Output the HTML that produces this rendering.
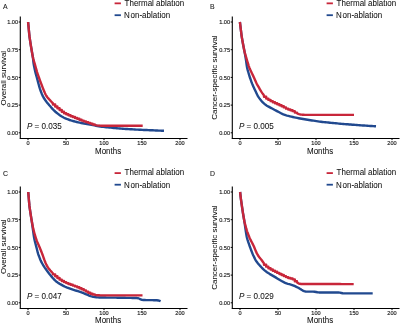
<!DOCTYPE html>
<html><head><meta charset="utf-8"><style>
html,body{margin:0;padding:0;background:#fff;}
svg{display:block;will-change:transform;filter:blur(0.35px);}
text{font-family:"Liberation Sans",sans-serif;}
.tk{font-size:5.6px;fill:#222;stroke:#222;stroke-width:0.15px;}
.lab{font-size:8px;fill:#111;stroke:#111;stroke-width:0.05px;}
.pv{font-size:8.1px;}
.yl{font-size:8px;}
.let{font-size:6.9px;fill:#222;stroke:#222;stroke-width:0.1px;}
</style></head><body>
<svg width="400" height="323" viewBox="0 0 400 323">
<line x1="20.30" y1="16.5" x2="20.30" y2="138.8" stroke="#000" stroke-width="1.1"/>
<line x1="19.80" y1="138.5" x2="187.5" y2="138.5" stroke="#000" stroke-width="1.1"/>
<line x1="18.70" y1="22.00" x2="20.30" y2="22.00" stroke="#000" stroke-width="1"/>
<text x="18.10" y="24.30" text-anchor="end" class="tk">1.00</text>
<line x1="18.70" y1="49.70" x2="20.30" y2="49.70" stroke="#000" stroke-width="1"/>
<text x="18.10" y="52.00" text-anchor="end" class="tk">0.75</text>
<line x1="18.70" y1="77.40" x2="20.30" y2="77.40" stroke="#000" stroke-width="1"/>
<text x="18.10" y="79.70" text-anchor="end" class="tk">0.50</text>
<line x1="18.70" y1="105.10" x2="20.30" y2="105.10" stroke="#000" stroke-width="1"/>
<text x="18.10" y="107.40" text-anchor="end" class="tk">0.25</text>
<line x1="18.70" y1="132.80" x2="20.30" y2="132.80" stroke="#000" stroke-width="1"/>
<text x="18.10" y="135.10" text-anchor="end" class="tk">0.00</text>
<line x1="28.00" y1="138.5" x2="28.00" y2="140.1" stroke="#000" stroke-width="1"/>
<text x="28.00" y="145.20" text-anchor="middle" class="tk">0</text>
<line x1="66.00" y1="138.5" x2="66.00" y2="140.1" stroke="#000" stroke-width="1"/>
<text x="66.00" y="145.20" text-anchor="middle" class="tk">50</text>
<line x1="104.00" y1="138.5" x2="104.00" y2="140.1" stroke="#000" stroke-width="1"/>
<text x="104.00" y="145.20" text-anchor="middle" class="tk">100</text>
<line x1="142.00" y1="138.5" x2="142.00" y2="140.1" stroke="#000" stroke-width="1"/>
<text x="142.00" y="145.20" text-anchor="middle" class="tk">150</text>
<line x1="180.00" y1="138.5" x2="180.00" y2="140.1" stroke="#000" stroke-width="1"/>
<text x="180.00" y="145.20" text-anchor="middle" class="tk">200</text>
<text transform="translate(95,153.8) scale(1,1.08)" class="lab">Months</text>
<text transform="translate(5.5,78.2) rotate(-90)" text-anchor="middle" class="lab yl">Overall survival</text>
<text x="2.9" y="9.2" class="let">A</text>
<line x1="114.6" y1="3.35" x2="120.9" y2="3.35" stroke="#c8263a" stroke-width="1.8"/>
<line x1="114.6" y1="15.2" x2="120.9" y2="15.2" stroke="#21498f" stroke-width="1.8"/>
<text transform="translate(124.6,5.9) scale(1,1.08)" class="lab">Thermal ablation</text>
<text transform="translate(124.0,18.0) scale(1,1.08)" class="lab">N<tspan dx="0.8">on-ablation</tspan></text>
<text transform="translate(26.9,128.8) scale(1,1.08)" class="lab pv"><tspan font-style="italic">P</tspan> = 0.035</text>
<line x1="232.30" y1="16.5" x2="232.30" y2="138.8" stroke="#000" stroke-width="1.1"/>
<line x1="231.80" y1="138.5" x2="399.5" y2="138.5" stroke="#000" stroke-width="1.1"/>
<line x1="230.70" y1="22.00" x2="232.30" y2="22.00" stroke="#000" stroke-width="1"/>
<text x="230.10" y="24.30" text-anchor="end" class="tk">1.00</text>
<line x1="230.70" y1="49.70" x2="232.30" y2="49.70" stroke="#000" stroke-width="1"/>
<text x="230.10" y="52.00" text-anchor="end" class="tk">0.75</text>
<line x1="230.70" y1="77.40" x2="232.30" y2="77.40" stroke="#000" stroke-width="1"/>
<text x="230.10" y="79.70" text-anchor="end" class="tk">0.50</text>
<line x1="230.70" y1="105.10" x2="232.30" y2="105.10" stroke="#000" stroke-width="1"/>
<text x="230.10" y="107.40" text-anchor="end" class="tk">0.25</text>
<line x1="230.70" y1="132.80" x2="232.30" y2="132.80" stroke="#000" stroke-width="1"/>
<text x="230.10" y="135.10" text-anchor="end" class="tk">0.00</text>
<line x1="240.00" y1="138.5" x2="240.00" y2="140.1" stroke="#000" stroke-width="1"/>
<text x="240.00" y="145.20" text-anchor="middle" class="tk">0</text>
<line x1="278.00" y1="138.5" x2="278.00" y2="140.1" stroke="#000" stroke-width="1"/>
<text x="278.00" y="145.20" text-anchor="middle" class="tk">50</text>
<line x1="316.00" y1="138.5" x2="316.00" y2="140.1" stroke="#000" stroke-width="1"/>
<text x="316.00" y="145.20" text-anchor="middle" class="tk">100</text>
<line x1="354.00" y1="138.5" x2="354.00" y2="140.1" stroke="#000" stroke-width="1"/>
<text x="354.00" y="145.20" text-anchor="middle" class="tk">150</text>
<line x1="392.00" y1="138.5" x2="392.00" y2="140.1" stroke="#000" stroke-width="1"/>
<text x="392.00" y="145.20" text-anchor="middle" class="tk">200</text>
<text transform="translate(307,153.8) scale(1,1.08)" class="lab">Months</text>
<text transform="translate(216.6,77.6) rotate(-90)" text-anchor="middle" class="lab yl">Cancer-specific survival</text>
<text x="209.9" y="8.9" class="let">B</text>
<line x1="326.6" y1="3.35" x2="332.9" y2="3.35" stroke="#c8263a" stroke-width="1.8"/>
<line x1="326.6" y1="15.2" x2="332.9" y2="15.2" stroke="#21498f" stroke-width="1.8"/>
<text transform="translate(336.6,5.9) scale(1,1.08)" class="lab">Thermal ablation</text>
<text transform="translate(336.0,18.0) scale(1,1.08)" class="lab">N<tspan dx="0.8">on-ablation</tspan></text>
<text transform="translate(238.9,128.8) scale(1,1.08)" class="lab pv"><tspan font-style="italic">P</tspan> = 0.005</text>
<line x1="20.30" y1="186.5" x2="20.30" y2="308.8" stroke="#000" stroke-width="1.1"/>
<line x1="19.80" y1="308.5" x2="187.5" y2="308.5" stroke="#000" stroke-width="1.1"/>
<line x1="18.70" y1="192.00" x2="20.30" y2="192.00" stroke="#000" stroke-width="1"/>
<text x="18.10" y="194.30" text-anchor="end" class="tk">1.00</text>
<line x1="18.70" y1="219.70" x2="20.30" y2="219.70" stroke="#000" stroke-width="1"/>
<text x="18.10" y="222.00" text-anchor="end" class="tk">0.75</text>
<line x1="18.70" y1="247.40" x2="20.30" y2="247.40" stroke="#000" stroke-width="1"/>
<text x="18.10" y="249.70" text-anchor="end" class="tk">0.50</text>
<line x1="18.70" y1="275.10" x2="20.30" y2="275.10" stroke="#000" stroke-width="1"/>
<text x="18.10" y="277.40" text-anchor="end" class="tk">0.25</text>
<line x1="18.70" y1="302.80" x2="20.30" y2="302.80" stroke="#000" stroke-width="1"/>
<text x="18.10" y="305.10" text-anchor="end" class="tk">0.00</text>
<line x1="28.00" y1="308.5" x2="28.00" y2="310.1" stroke="#000" stroke-width="1"/>
<text x="28.00" y="315.20" text-anchor="middle" class="tk">0</text>
<line x1="66.00" y1="308.5" x2="66.00" y2="310.1" stroke="#000" stroke-width="1"/>
<text x="66.00" y="315.20" text-anchor="middle" class="tk">50</text>
<line x1="104.00" y1="308.5" x2="104.00" y2="310.1" stroke="#000" stroke-width="1"/>
<text x="104.00" y="315.20" text-anchor="middle" class="tk">100</text>
<line x1="142.00" y1="308.5" x2="142.00" y2="310.1" stroke="#000" stroke-width="1"/>
<text x="142.00" y="315.20" text-anchor="middle" class="tk">150</text>
<line x1="180.00" y1="308.5" x2="180.00" y2="310.1" stroke="#000" stroke-width="1"/>
<text x="180.00" y="315.20" text-anchor="middle" class="tk">200</text>
<text transform="translate(95,322.8) scale(1,1.08)" class="lab">Months</text>
<text transform="translate(5.5,246.7) rotate(-90)" text-anchor="middle" class="lab yl">Overall survival</text>
<text x="2.9" y="175.8" class="let">C</text>
<line x1="114.6" y1="173.1" x2="120.9" y2="173.1" stroke="#c8263a" stroke-width="1.8"/>
<line x1="114.6" y1="184.7" x2="120.9" y2="184.7" stroke="#21498f" stroke-width="1.8"/>
<text transform="translate(124.6,175.4) scale(1,1.08)" class="lab">Thermal ablation</text>
<text transform="translate(124.0,187.5) scale(1,1.08)" class="lab">N<tspan dx="0.8">on-ablation</tspan></text>
<text transform="translate(26.9,298.8) scale(1,1.08)" class="lab pv"><tspan font-style="italic">P</tspan> = 0.047</text>
<line x1="232.30" y1="186.5" x2="232.30" y2="308.8" stroke="#000" stroke-width="1.1"/>
<line x1="231.80" y1="308.5" x2="399.5" y2="308.5" stroke="#000" stroke-width="1.1"/>
<line x1="230.70" y1="192.00" x2="232.30" y2="192.00" stroke="#000" stroke-width="1"/>
<text x="230.10" y="194.30" text-anchor="end" class="tk">1.00</text>
<line x1="230.70" y1="219.70" x2="232.30" y2="219.70" stroke="#000" stroke-width="1"/>
<text x="230.10" y="222.00" text-anchor="end" class="tk">0.75</text>
<line x1="230.70" y1="247.40" x2="232.30" y2="247.40" stroke="#000" stroke-width="1"/>
<text x="230.10" y="249.70" text-anchor="end" class="tk">0.50</text>
<line x1="230.70" y1="275.10" x2="232.30" y2="275.10" stroke="#000" stroke-width="1"/>
<text x="230.10" y="277.40" text-anchor="end" class="tk">0.25</text>
<line x1="230.70" y1="302.80" x2="232.30" y2="302.80" stroke="#000" stroke-width="1"/>
<text x="230.10" y="305.10" text-anchor="end" class="tk">0.00</text>
<line x1="240.00" y1="308.5" x2="240.00" y2="310.1" stroke="#000" stroke-width="1"/>
<text x="240.00" y="315.20" text-anchor="middle" class="tk">0</text>
<line x1="278.00" y1="308.5" x2="278.00" y2="310.1" stroke="#000" stroke-width="1"/>
<text x="278.00" y="315.20" text-anchor="middle" class="tk">50</text>
<line x1="316.00" y1="308.5" x2="316.00" y2="310.1" stroke="#000" stroke-width="1"/>
<text x="316.00" y="315.20" text-anchor="middle" class="tk">100</text>
<line x1="354.00" y1="308.5" x2="354.00" y2="310.1" stroke="#000" stroke-width="1"/>
<text x="354.00" y="315.20" text-anchor="middle" class="tk">150</text>
<line x1="392.00" y1="308.5" x2="392.00" y2="310.1" stroke="#000" stroke-width="1"/>
<text x="392.00" y="315.20" text-anchor="middle" class="tk">200</text>
<text transform="translate(307,322.8) scale(1,1.08)" class="lab">Months</text>
<text transform="translate(216.6,247.6) rotate(-90)" text-anchor="middle" class="lab yl">Cancer-specific survival</text>
<text x="209.9" y="175.8" class="let">D</text>
<line x1="326.6" y1="173.1" x2="332.9" y2="173.1" stroke="#c8263a" stroke-width="1.8"/>
<line x1="326.6" y1="184.7" x2="332.9" y2="184.7" stroke="#21498f" stroke-width="1.8"/>
<text transform="translate(336.6,175.4) scale(1,1.08)" class="lab">Thermal ablation</text>
<text transform="translate(336.0,187.5) scale(1,1.08)" class="lab">N<tspan dx="0.8">on-ablation</tspan></text>
<text transform="translate(238.9,298.8) scale(1,1.08)" class="lab pv"><tspan font-style="italic">P</tspan> = 0.029</text>
<polyline points="28.10,22.00 28.24,23.49 28.38,24.99 28.52,26.48 28.66,27.98 28.79,29.47 28.93,30.97 29.07,32.46 29.21,33.96 29.37,35.45 29.55,36.94 29.77,38.43 29.99,39.91 30.21,41.39 30.44,42.88 30.67,44.36 30.91,45.84 31.15,47.32 31.40,48.81 31.65,50.29 31.91,51.76 32.17,53.24 32.43,54.72 32.68,56.20 32.91,57.68 33.10,59.17 33.27,60.66 33.42,62.16 33.61,63.64 33.86,65.12 34.15,66.59 34.46,68.06 34.78,69.53 35.10,71.00 35.45,72.46 35.83,73.91 36.22,75.36 36.62,76.80 37.02,78.25 37.41,79.70 37.80,81.15 38.18,82.60 38.56,84.05 38.95,85.50 39.35,86.95 39.79,88.38 40.28,89.80 40.80,91.21 41.33,92.61 41.87,94.01 42.45,95.39 43.12,96.73 43.88,98.02 44.69,99.28 45.54,100.51 46.45,101.71 47.38,102.88 48.33,104.04 49.28,105.20 50.26,106.34 51.24,107.48 52.24,108.60 53.25,109.71 54.31,110.76 55.43,111.75 56.59,112.71 57.75,113.66 58.93,114.59 60.14,115.47 61.40,116.27 62.71,117.01 64.03,117.72 65.37,118.37 66.75,118.95 68.16,119.49 69.57,120.00 70.99,120.46 72.44,120.88 73.88,121.28 75.33,121.66 76.79,122.03 78.25,122.37 79.71,122.70 81.18,123.00 82.66,123.28 84.14,123.54 85.61,123.81 87.09,124.08 88.57,124.34 90.05,124.61 91.52,124.87 93.00,125.14 94.48,125.42 95.95,125.72 97.42,126.03 98.88,126.33 100.36,126.59 101.85,126.78 103.34,126.93 104.84,127.08 106.33,127.23 107.82,127.38 109.32,127.53 110.81,127.68 112.30,127.83 113.80,127.98 115.29,128.13 116.79,128.28 118.28,128.42 119.77,128.56 121.27,128.67 122.77,128.77 124.27,128.86 125.77,128.95 127.26,129.04 128.76,129.13 130.26,129.22 131.76,129.31 133.26,129.40 134.76,129.49 136.26,129.58 137.75,129.66 139.25,129.75 140.75,129.82 142.25,129.89 143.75,129.95 145.25,130.01 146.75,130.07 148.25,130.13 149.75,130.19 151.25,130.25 152.75,130.32 154.25,130.38 155.75,130.45 157.25,130.51 158.75,130.58 160.25,130.64 161.75,130.70 163.25,130.77 164.00,130.80" fill="none" stroke="#21498f" stroke-width="2.4" stroke-linejoin="round" stroke-linecap="butt"/>
<polyline points="28.10,22.00 28.24,23.49 28.38,24.99 28.52,26.48 28.65,27.98 28.79,29.47 28.93,30.96 29.07,32.46 29.21,33.95 29.37,35.44 29.55,36.93 29.76,38.41 29.98,39.90 30.21,41.38 30.43,42.87 30.67,44.35 30.91,45.83 31.15,47.31 31.40,48.79 31.65,50.27 31.91,51.74 32.16,53.22 32.42,54.70 32.69,56.18 32.99,57.64 33.35,59.10 33.76,60.54 34.19,61.98 34.62,63.42 35.03,64.86 35.43,66.30 35.83,67.75 36.23,69.19 36.64,70.64 37.07,72.08 37.53,73.50 38.02,74.92 38.52,76.33 39.01,77.75 39.51,79.16 40.02,80.57 40.54,81.98 41.07,83.39 41.60,84.79 42.13,86.20 42.67,87.59 43.23,88.99 43.81,90.37 44.39,91.75 44.98,93.13 45.60,94.49 46.30,95.80 47.16,97.01 48.12,98.15 49.12,99.27 50.13,100.38 51.15,101.47 52.19,102.56 53.00,103.41 53.00,104.51 55.20,104.51 55.20,106.46 57.40,106.46 57.40,108.26 59.60,108.26 59.60,110.03 61.80,110.03 61.80,111.71 64.00,111.71 64.00,113.19 66.20,113.19 66.20,114.30 68.40,114.30 68.40,115.26 70.60,115.26 70.60,116.18 72.80,116.18 72.80,117.06 75.00,117.06 75.00,117.94 77.20,117.94 77.20,118.82 79.40,118.82 79.40,119.70 81.60,119.70 81.60,120.58 83.80,120.58 83.80,121.40 86.00,121.40 86.00,122.13 88.20,122.13 88.20,122.83 90.40,122.83 90.40,123.66 92.60,123.66 92.60,124.52 94.80,124.52 94.80,124.89 95.51,125.11 96.97,125.41 98.45,125.57 99.95,125.66 101.45,125.70 102.95,125.71 104.45,125.72 105.95,125.73 107.45,125.74 108.95,125.74 110.45,125.75 111.95,125.76 113.45,125.77 114.95,125.77 116.45,125.78 117.95,125.79 119.45,125.80 120.95,125.80 122.45,125.80 123.95,125.80 125.45,125.80 126.95,125.80 128.45,125.80 129.95,125.80 131.45,125.80 132.95,125.80 134.45,125.80 135.95,125.80 137.45,125.80 138.95,125.80 140.45,125.80 141.95,125.80 142.70,125.80" fill="none" stroke="#c8263a" stroke-width="2.4" stroke-linejoin="round" stroke-linecap="butt"/>
<polyline points="239.90,22.00 240.08,23.49 240.26,24.98 240.44,26.47 240.62,27.96 240.80,29.45 240.99,30.94 241.17,32.43 241.35,33.92 241.55,35.40 241.77,36.89 242.02,38.37 242.27,39.85 242.53,41.32 242.79,42.80 243.07,44.28 243.35,45.75 243.64,47.22 243.94,48.69 244.23,50.16 244.52,51.64 244.79,53.11 245.05,54.59 245.31,56.07 245.57,57.55 245.82,59.03 246.06,60.51 246.27,61.99 246.48,63.48 246.68,64.97 246.90,66.45 247.17,67.92 247.52,69.38 247.91,70.82 248.33,72.27 248.74,73.71 249.17,75.15 249.62,76.58 250.10,78.00 250.60,79.42 251.09,80.83 251.59,82.25 252.12,83.65 252.70,85.03 253.31,86.40 253.94,87.76 254.57,89.13 255.20,90.49 255.83,91.85 256.47,93.21 257.11,94.56 257.79,95.89 258.57,97.17 259.43,98.39 260.34,99.58 261.30,100.73 262.31,101.84 263.36,102.91 264.46,103.93 265.62,104.87 266.86,105.69 268.16,106.43 269.48,107.14 270.81,107.84 272.13,108.54 273.46,109.24 274.79,109.94 276.11,110.65 277.44,111.35 278.77,112.05 280.10,112.75 281.42,113.44 282.76,114.12 284.13,114.71 285.55,115.18 286.99,115.58 288.45,115.95 289.90,116.31 291.36,116.67 292.82,117.01 294.28,117.34 295.75,117.65 297.22,117.94 298.70,118.23 300.17,118.51 301.65,118.78 303.13,119.04 304.61,119.29 306.09,119.52 307.57,119.76 309.05,119.99 310.53,120.22 312.02,120.45 313.50,120.68 314.98,120.92 316.46,121.15 317.95,121.38 319.43,121.59 320.92,121.78 322.41,121.94 323.91,122.09 325.40,122.24 326.89,122.39 328.38,122.54 329.88,122.69 331.37,122.84 332.86,122.99 334.36,123.14 335.85,123.29 337.34,123.43 338.84,123.58 340.33,123.72 341.83,123.84 343.32,123.97 344.82,124.09 346.31,124.21 347.81,124.32 349.31,124.44 350.80,124.56 352.30,124.68 353.79,124.80 355.29,124.92 356.78,125.04 358.28,125.16 359.78,125.27 361.27,125.38 362.77,125.47 364.27,125.57 365.77,125.66 367.26,125.75 368.76,125.85 370.26,125.94 371.76,126.03 373.25,126.13 374.75,126.22 376.00,126.30" fill="none" stroke="#21498f" stroke-width="2.4" stroke-linejoin="round" stroke-linecap="butt"/>
<polyline points="239.90,22.00 240.08,23.49 240.26,24.98 240.44,26.47 240.62,27.96 240.80,29.45 240.99,30.94 241.17,32.43 241.35,33.92 241.55,35.41 241.77,36.89 242.02,38.37 242.27,39.85 242.53,41.33 242.80,42.81 243.07,44.28 243.35,45.76 243.65,47.23 243.94,48.70 244.24,50.17 244.56,51.63 244.93,53.09 245.33,54.53 245.74,55.98 246.16,57.42 246.58,58.86 247.00,60.30 247.44,61.74 247.89,63.17 248.34,64.60 248.79,66.03 249.28,67.45 249.84,68.84 250.46,70.20 251.11,71.55 251.76,72.91 252.41,74.26 253.05,75.62 253.68,76.98 254.29,78.35 254.90,79.72 255.51,81.09 256.13,82.46 256.78,83.81 257.49,85.13 258.23,86.43 258.99,87.73 259.75,89.02 260.52,90.31 261.30,91.59 262.13,92.84 262.99,94.07 263.88,95.27 264.00,95.42 264.00,96.71 266.20,96.71 266.20,98.58 268.40,98.58 268.40,99.90 270.60,99.90 270.60,101.14 272.80,101.14 272.80,102.27 275.00,102.27 275.00,103.27 277.20,103.27 277.20,104.25 279.40,104.25 279.40,105.23 281.60,105.23 281.60,106.24 283.80,106.24 283.80,107.40 286.00,107.40 286.00,108.65 288.20,108.65 288.20,109.51 290.40,109.51 290.40,110.19 292.60,110.19 292.60,111.16 294.80,111.16 294.80,112.62 297.00,112.62 297.00,113.31 297.66,113.69 299.05,114.20 300.49,114.52 301.98,114.68 303.47,114.77 304.97,114.84 306.47,114.88 307.97,114.90 309.47,114.90 310.97,114.90 312.47,114.90 313.97,114.90 315.48,114.90 316.98,114.90 318.48,114.90 319.98,114.90 321.48,114.90 322.98,114.90 324.48,114.90 325.98,114.90 327.48,114.90 328.98,114.90 330.49,114.90 331.99,114.90 333.49,114.90 334.99,114.90 336.49,114.90 337.99,114.90 339.49,114.90 340.99,114.90 342.49,114.90 343.99,114.90 345.49,114.90 347.00,114.90 348.50,114.90 350.00,114.90 351.50,114.90 353.00,114.90 354.00,114.90" fill="none" stroke="#c8263a" stroke-width="2.4" stroke-linejoin="round" stroke-linecap="butt"/>
<polyline points="28.25,192.00 28.37,193.50 28.50,194.99 28.62,196.49 28.75,197.98 28.87,199.48 28.99,200.98 29.11,202.47 29.24,203.97 29.38,205.46 29.56,206.95 29.77,208.44 29.99,209.92 30.21,211.41 30.44,212.89 30.67,214.38 30.90,215.86 31.14,217.34 31.38,218.82 31.62,220.30 31.85,221.79 32.07,223.27 32.28,224.76 32.48,226.25 32.69,227.73 32.89,229.22 33.09,230.71 33.29,232.20 33.49,233.68 33.70,235.17 33.93,236.65 34.18,238.13 34.47,239.60 34.80,241.07 35.17,242.52 35.56,243.97 35.94,245.42 36.32,246.88 36.68,248.33 37.05,249.79 37.41,251.24 37.79,252.70 38.22,254.13 38.72,255.54 39.26,256.94 39.81,258.34 40.36,259.74 40.95,261.11 41.61,262.46 42.36,263.75 43.14,265.03 43.94,266.30 44.76,267.56 45.61,268.80 46.48,270.02 47.37,271.23 48.26,272.44 49.16,273.63 50.10,274.81 51.05,275.97 52.02,277.12 53.00,278.25 54.02,279.35 55.06,280.43 56.16,281.43 57.36,282.33 58.61,283.14 59.90,283.91 61.20,284.66 62.51,285.38 63.84,286.07 65.19,286.74 66.56,287.35 67.95,287.89 69.36,288.41 70.78,288.90 72.20,289.38 73.63,289.84 75.06,290.30 76.49,290.76 77.92,291.22 79.35,291.68 80.77,292.16 82.18,292.68 83.57,293.23 84.96,293.79 86.35,294.38 87.72,294.97 89.11,295.55 90.51,296.06 91.95,296.47 93.41,296.81 94.88,297.08 96.37,297.28 97.86,297.42 99.36,297.50 100.86,297.52 102.36,297.54 103.86,297.55 105.36,297.57 106.86,297.58 108.36,297.59 109.87,297.61 111.37,297.62 112.87,297.64 114.37,297.65 115.87,297.66 117.37,297.68 118.87,297.69 120.37,297.71 121.87,297.74 123.38,297.77 124.88,297.80 126.38,297.83 127.88,297.86 129.38,297.89 130.88,297.92 132.38,297.96 133.88,297.99 135.38,298.02 136.87,298.07 138.28,298.25 139.52,298.75 140.65,299.44 141.92,299.88 143.35,300.02 144.84,300.06 146.34,300.08 147.84,300.10 149.34,300.12 150.85,300.14 152.35,300.16 153.85,300.18 155.35,300.21 156.84,300.26 158.30,300.44 159.70,300.86 160.60,301.25" fill="none" stroke="#21498f" stroke-width="2.4" stroke-linejoin="round" stroke-linecap="butt"/>
<polyline points="28.25,192.00 28.37,193.50 28.50,194.99 28.62,196.49 28.75,197.98 28.87,199.48 28.99,200.98 29.11,202.47 29.24,203.97 29.38,205.46 29.56,206.95 29.77,208.44 29.99,209.92 30.21,211.41 30.44,212.89 30.67,214.37 30.90,215.86 31.14,217.34 31.38,218.82 31.63,220.30 31.88,221.78 32.16,223.26 32.45,224.73 32.74,226.20 33.04,227.67 33.35,229.14 33.70,230.60 34.08,232.05 34.49,233.49 34.91,234.94 35.33,236.38 35.78,237.81 36.25,239.24 36.74,240.65 37.30,242.04 37.91,243.41 38.53,244.78 39.13,246.15 39.71,247.54 40.27,248.93 40.83,250.32 41.39,251.72 41.93,253.11 42.46,254.52 42.97,255.93 43.47,257.35 43.97,258.76 44.47,260.18 45.00,261.58 45.59,262.96 46.22,264.32 46.89,265.66 47.62,266.96 48.46,268.20 49.37,269.39 50.33,270.54 51.34,271.65 52.36,272.75 53.00,273.38 53.00,274.41 55.20,274.41 55.20,276.24 57.40,276.24 57.40,278.00 59.60,278.00 59.60,279.65 61.80,279.65 61.80,280.97 64.00,280.97 64.00,282.10 66.20,282.10 66.20,283.10 68.40,283.10 68.40,283.99 70.60,283.99 70.60,284.82 72.80,284.82 72.80,285.59 75.00,285.59 75.00,286.39 77.20,286.39 77.20,287.27 79.40,287.27 79.40,288.21 81.60,288.21 81.60,289.22 83.80,289.22 83.80,290.37 86.00,290.37 86.00,291.62 88.20,291.62 88.20,292.77 90.40,292.77 90.40,293.70 92.60,293.70 92.60,294.47 94.80,294.47 94.80,294.79 96.00,295.07 97.47,295.25 98.97,295.32 100.47,295.36 101.97,295.38 103.47,295.40 104.97,295.40 106.47,295.40 107.97,295.40 109.47,295.40 110.98,295.40 112.48,295.40 113.98,295.40 115.48,295.40 116.98,295.40 118.48,295.40 119.98,295.40 121.48,295.40 122.99,295.40 124.49,295.40 125.99,295.40 127.49,295.40 128.99,295.40 130.49,295.40 131.99,295.40 133.49,295.40 134.99,295.40 136.50,295.40 138.00,295.40 139.50,295.40 141.00,295.40 142.50,295.40 142.50,295.40" fill="none" stroke="#c8263a" stroke-width="2.4" stroke-linejoin="round" stroke-linecap="butt"/>
<polyline points="240.10,192.00 240.26,193.49 240.42,194.98 240.59,196.48 240.77,197.97 240.96,199.45 241.17,200.94 241.39,202.43 241.60,203.91 241.82,205.40 242.03,206.88 242.26,208.37 242.48,209.85 242.70,211.34 242.93,212.82 243.16,214.30 243.41,215.78 243.67,217.26 243.93,218.74 244.19,220.22 244.43,221.70 244.66,223.18 244.87,224.67 245.07,226.16 245.28,227.64 245.49,229.13 245.71,230.61 245.94,232.10 246.18,233.58 246.42,235.06 246.68,236.54 247.00,238.00 247.41,239.44 247.87,240.87 248.35,242.29 248.83,243.71 249.32,245.13 249.82,246.55 250.33,247.95 250.86,249.36 251.39,250.77 251.92,252.17 252.48,253.56 253.08,254.94 253.72,256.29 254.37,257.64 255.03,258.99 255.74,260.31 256.55,261.56 257.46,262.74 258.42,263.90 259.39,265.04 260.38,266.17 261.40,267.27 262.44,268.35 263.50,269.41 264.62,270.40 265.79,271.33 267.00,272.22 268.24,273.06 269.52,273.85 270.82,274.60 272.12,275.34 273.42,276.09 274.71,276.85 276.00,277.63 277.27,278.42 278.55,279.20 279.84,279.97 281.14,280.72 282.46,281.45 283.77,282.17 285.11,282.84 286.49,283.40 287.92,283.82 289.37,284.18 290.82,284.57 292.24,285.03 293.63,285.57 294.99,286.20 296.35,286.85 297.70,287.51 299.03,288.19 300.31,288.96 301.53,289.80 302.78,290.59 304.12,291.16 305.56,291.49 307.04,291.64 308.54,291.67 310.04,291.65 311.54,291.64 313.04,291.64 314.52,291.72 315.99,291.95 317.45,292.24 318.92,292.43 320.41,292.49 321.91,292.50 323.41,292.50 324.92,292.50 326.42,292.50 327.92,292.50 329.42,292.50 330.92,292.50 332.42,292.50 333.92,292.50 335.42,292.50 336.92,292.50 338.42,292.53 339.88,292.66 341.30,292.96 342.72,293.25 344.19,293.38 345.68,293.40 347.18,293.40 348.68,293.40 350.18,293.40 351.69,293.40 353.19,293.40 354.69,293.40 356.19,293.40 357.69,293.40 359.19,293.40 360.69,293.40 362.19,293.40 363.69,293.40 365.19,293.40 366.70,293.40 368.20,293.40 369.70,293.40 371.20,293.40 372.70,293.40 372.70,293.40" fill="none" stroke="#21498f" stroke-width="2.4" stroke-linejoin="round" stroke-linecap="butt"/>
<polyline points="240.10,192.00 240.26,193.49 240.42,194.98 240.59,196.48 240.77,197.97 240.96,199.45 241.17,200.94 241.39,202.43 241.60,203.91 241.82,205.40 242.03,206.88 242.26,208.37 242.48,209.85 242.70,211.34 242.93,212.82 243.16,214.30 243.41,215.78 243.67,217.26 243.93,218.74 244.19,220.22 244.48,221.69 244.82,223.15 245.19,224.61 245.57,226.06 245.95,227.51 246.35,228.96 246.79,230.39 247.28,231.81 247.81,233.21 248.33,234.62 248.86,236.02 249.42,237.41 250.04,238.78 250.71,240.12 251.39,241.46 252.08,242.79 252.77,244.12 253.44,245.47 254.06,246.83 254.65,248.21 255.21,249.60 255.78,250.99 256.36,252.37 257.01,253.72 257.77,255.00 258.61,256.24 259.51,257.44 260.44,258.62 261.38,259.79 262.28,260.99 263.15,262.21 264.00,263.37 264.00,264.68 266.20,264.68 266.20,266.67 268.40,266.67 268.40,268.20 270.60,268.20 270.60,269.49 272.80,269.49 272.80,270.68 275.00,270.68 275.00,271.82 277.20,271.82 277.20,272.91 279.40,272.91 279.40,273.98 281.60,273.98 281.60,275.04 283.80,275.04 283.80,276.10 286.00,276.10 286.00,277.12 288.20,277.12 288.20,277.94 290.40,277.94 290.40,278.56 292.60,278.56 292.60,279.35 294.80,279.35 294.80,281.29 297.00,281.29 297.00,282.37 297.15,282.51 298.35,283.31 299.71,283.77 301.17,283.95 302.66,284.00 304.16,284.01 305.66,284.01 307.17,284.01 308.67,284.02 310.17,284.02 311.67,284.02 313.17,284.02 314.67,284.03 316.17,284.03 317.67,284.03 319.17,284.04 320.68,284.04 322.18,284.04 323.68,284.04 325.18,284.05 326.68,284.05 328.18,284.05 329.68,284.06 331.18,284.06 332.68,284.06 334.19,284.06 335.69,284.07 337.19,284.07 338.69,284.07 340.19,284.07 341.69,284.08 343.19,284.08 344.69,284.08 346.19,284.09 347.70,284.09 349.20,284.09 350.70,284.09 352.20,284.10 353.70,284.10 353.70,284.10" fill="none" stroke="#c8263a" stroke-width="2.4" stroke-linejoin="round" stroke-linecap="butt"/>
</svg>
</body></html>
